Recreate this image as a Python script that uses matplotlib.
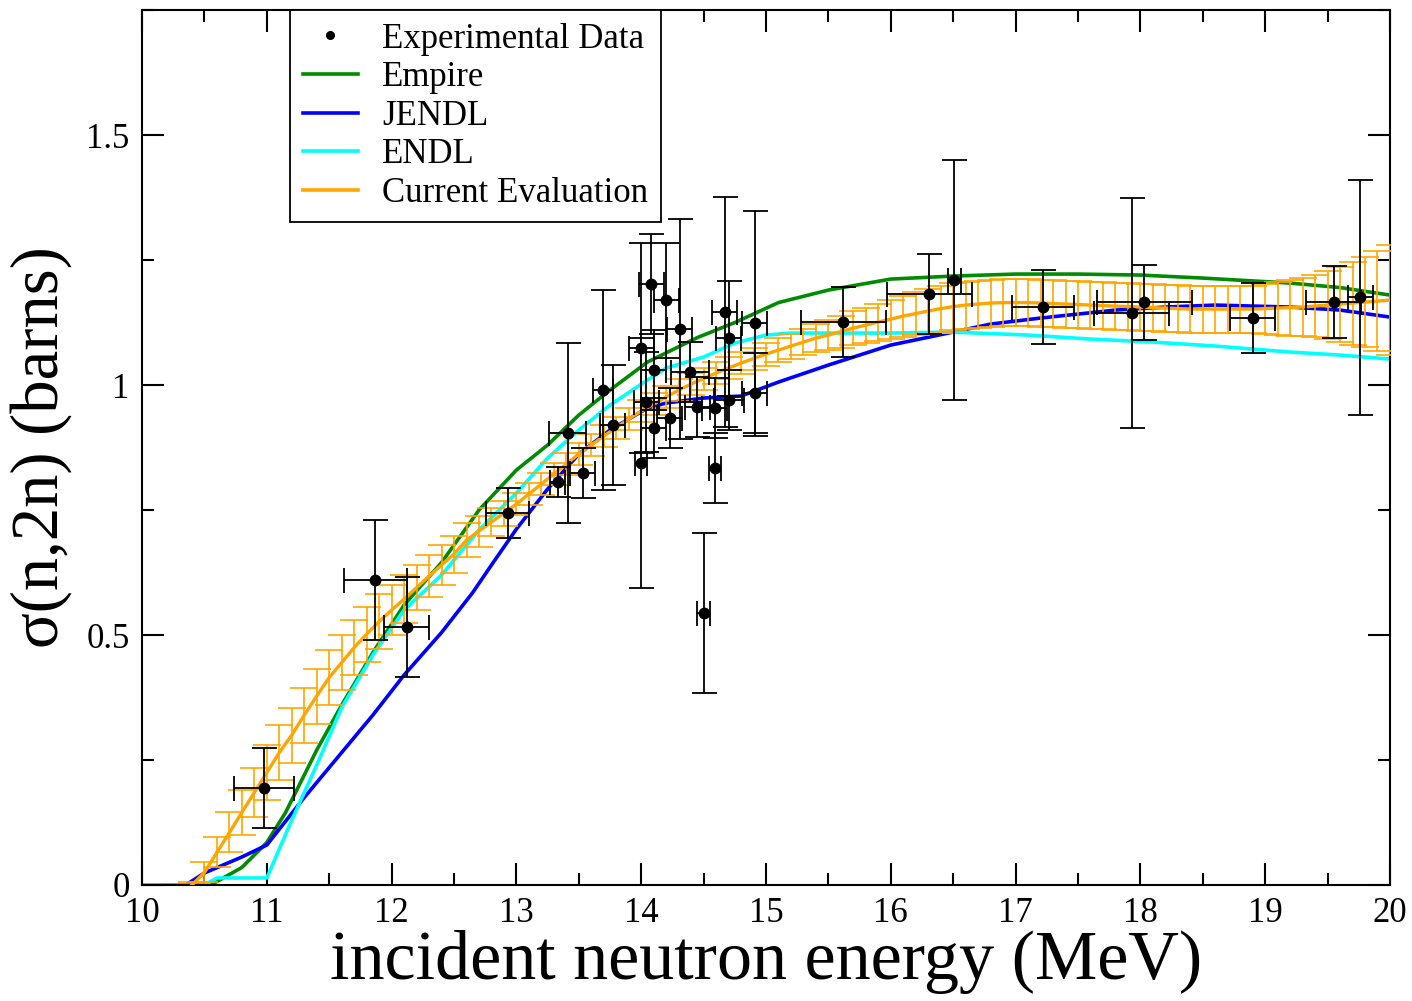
import matplotlib
matplotlib.use("Agg")
import matplotlib.pyplot as plt
from matplotlib.lines import Line2D
from matplotlib.ticker import MultipleLocator, FuncFormatter

plt.rcParams['font.family'] = ['Liberation Serif', 'DejaVu Serif']

# Empire
emp_E = [10.0, 10.55, 10.8, 11.0, 11.15, 11.4, 11.6, 11.85, 12.1, 12.4, 12.7, 13.0, 13.25, 13.5,
         13.75, 14.05, 14.45, 14.75, 15.1, 15.5, 16.0, 16.5, 17.0, 17.5, 18.0, 18.5, 19.2, 19.6, 20.0]
emp_s = [0.0, 0.0, 0.035, 0.085, 0.145, 0.27, 0.36, 0.465, 0.56, 0.645, 0.75, 0.83, 0.88, 0.94,
         0.99, 1.046, 1.095, 1.125, 1.165, 1.19, 1.212, 1.218, 1.222, 1.222, 1.22, 1.214, 1.204, 1.195, 1.18]

# JENDL
jendl_E = [10.0, 10.35, 10.5, 10.8, 11.0, 11.3, 11.6, 11.85, 12.1, 12.4, 12.65, 12.8, 13.0, 13.25,
           13.5, 13.75, 14.05, 14.2, 14.5, 14.8, 15.1, 15.5, 16.0, 16.5, 16.8, 17.2, 17.5, 17.8,
           18.2, 18.6, 19.2, 19.6, 20.0]
jendl_s = [0.0, 0.0, 0.024, 0.056, 0.08, 0.175, 0.265, 0.34, 0.42, 0.505, 0.585, 0.64, 0.712, 0.792,
           0.862, 0.91, 0.954, 0.964, 0.974, 0.978, 1.006, 1.04, 1.08, 1.106, 1.122, 1.134, 1.142, 1.15,
           1.156, 1.16, 1.156, 1.15, 1.136]

# ENDL
endl_E = [10.0, 10.5, 10.6, 11.0, 11.2, 11.4, 11.6, 11.85, 12.1, 12.4, 12.7, 13.0, 13.25, 13.5,
          13.75, 14.05, 14.2, 14.5, 14.75, 15.0, 15.2, 15.5, 16.0, 16.5, 17.1, 17.6, 18.1, 18.6,
          19.2, 19.6, 20.0]
endl_s = [0.0, 0.0, 0.014, 0.014, 0.13, 0.24, 0.355, 0.46, 0.55, 0.62, 0.71, 0.784, 0.854, 0.91,
          0.96, 1.01, 1.034, 1.056, 1.084, 1.10, 1.104, 1.104, 1.104, 1.106, 1.10, 1.092, 1.086, 1.078,
          1.066, 1.06, 1.052]

# Current evaluation (0.1 MeV grid)
cur_E = [10.4, 10.5, 10.6, 10.7, 10.8, 10.9, 11.0, 11.1, 11.2, 11.3, 11.4, 11.5, 11.6, 11.7, 11.8, 11.9,
         12.0, 12.1, 12.2, 12.3, 12.4, 12.5, 12.6, 12.7, 12.8, 12.9, 13.0, 13.1, 13.2, 13.3, 13.4, 13.5,
         13.6, 13.7, 13.8, 13.9, 14.0, 14.1, 14.2, 14.3, 14.4, 14.5, 14.6, 14.7, 14.8, 14.9, 15.0, 15.1,
         15.2, 15.3, 15.4, 15.5, 15.6, 15.7, 15.8, 15.9, 16.0, 16.1, 16.2, 16.3, 16.4, 16.5, 16.6, 16.7,
         16.8, 16.9, 17.0, 17.1, 17.2, 17.3, 17.4, 17.5, 17.6, 17.7, 17.8, 17.9, 18.0, 18.1, 18.2, 18.3,
         18.4, 18.5, 18.6, 18.7, 18.8, 18.9, 19.0, 19.1, 19.2, 19.3, 19.4, 19.5, 19.6, 19.7, 19.8, 19.9,
         20.0]
cur_s = [0.0, 0.025, 0.065, 0.105, 0.145, 0.185, 0.225, 0.265, 0.30, 0.34, 0.378, 0.415, 0.445, 0.475,
         0.502, 0.527, 0.55, 0.572, 0.595, 0.618, 0.64, 0.662, 0.69, 0.708, 0.726, 0.744, 0.762, 0.782,
         0.802, 0.822, 0.842, 0.862, 0.88, 0.898, 0.915, 0.932, 0.948, 0.962, 0.976, 0.99, 1.002, 1.013,
         1.024, 1.034, 1.044, 1.053, 1.062, 1.07, 1.078, 1.086, 1.094, 1.10, 1.107, 1.114, 1.12, 1.126,
         1.132, 1.138, 1.143, 1.148, 1.153, 1.157, 1.16, 1.162, 1.164, 1.165, 1.165, 1.165, 1.164, 1.163,
         1.162, 1.161, 1.16, 1.159, 1.158, 1.157, 1.156, 1.155, 1.154, 1.153, 1.152, 1.152, 1.152, 1.152,
         1.152, 1.152, 1.153, 1.154, 1.155, 1.156, 1.158, 1.16, 1.162, 1.164, 1.166, 1.168, 1.17]
cur_err = [0.005, 0.02, 0.03, 0.04, 0.045, 0.05, 0.055, 0.055, 0.055, 0.055, 0.055, 0.055, 0.055, 0.055,
           0.055, 0.055, 0.05, 0.048, 0.045, 0.042, 0.04, 0.037, 0.034, 0.031, 0.028, 0.025, 0.022, 0.022,
           0.022, 0.022, 0.022, 0.022, 0.022, 0.022, 0.022, 0.022, 0.022, 0.022, 0.022, 0.022, 0.022, 0.022,
           0.022, 0.022, 0.022, 0.022, 0.023, 0.024, 0.025, 0.026, 0.028, 0.03, 0.032, 0.034, 0.035, 0.037,
           0.039, 0.041, 0.043, 0.045, 0.046, 0.047, 0.047, 0.047, 0.047, 0.047, 0.047, 0.047, 0.047, 0.047,
           0.047, 0.047, 0.047, 0.047, 0.047, 0.047, 0.047, 0.047, 0.047, 0.047, 0.047, 0.047, 0.047, 0.047,
           0.047, 0.047, 0.05, 0.053, 0.056, 0.058, 0.062, 0.068, 0.075, 0.083, 0.09, 0.1, 0.11]

# Experimental data: energy, sigma, energy error, sigma error
exp_E = [10.98, 11.87, 12.12, 12.93, 13.33, 13.41, 13.53, 13.77, 13.69, 14.0, 14.0, 14.04, 14.08, 14.1,
         14.1, 14.2, 14.23, 14.31, 14.39, 14.45, 14.5, 14.59, 14.59, 14.67, 14.7, 14.7, 14.91, 14.91,
         15.62, 16.31, 16.51, 17.22, 17.93, 18.03, 18.9, 19.55, 19.76]
exp_s = [0.194, 0.61, 0.516, 0.744, 0.806, 0.905, 0.824, 0.92, 0.99, 1.074, 0.845, 0.966, 1.202, 1.03,
         0.914, 1.17, 0.934, 1.112, 1.026, 0.956, 0.544, 0.954, 0.834, 1.146, 1.094, 0.97, 1.124, 0.984,
         1.127, 1.182, 1.21, 1.156, 1.144, 1.166, 1.134, 1.166, 1.176]
exp_dE = [0.24, 0.25, 0.18, 0.17, 0.06, 0.15, 0.1, 0.1, 0.08, 0.1, 0.05, 0.1, 0.1, 0.1,
          0.1, 0.1, 0.1, 0.1, 0.15, 0.1, 0.05, 0.1, 0.05, 0.1, 0.1, 0.12, 0.1, 0.1,
          0.34, 0.34, 0.05, 0.25, 0.3, 0.38, 0.18, 0.22, 0.1]
exp_ds = [0.08, 0.12, 0.10, 0.05, 0.03, 0.18, 0.05, 0.12, 0.2, 0.21, 0.25, 0.1, 0.10, 0.08,
          0.06, 0.115, 0.06, 0.22, 0.06, 0.06, 0.16, 0.06, 0.07, 0.23, 0.115, 0.06, 0.225, 0.08,
          0.07, 0.08, 0.24, 0.074, 0.23, 0.075, 0.07, 0.072, 0.235]

green = '#008b00'
blue = '#0000ff'
cyan = '#00ffff'
orange = '#ffa500'

fig = plt.figure(figsize=(14.12, 10.01), dpi=100)
ax = fig.add_axes([0.1006, 0.1159, 0.8838, 0.874])

ax.plot(emp_E, emp_s, color=green, lw=2.6, zorder=2)
ax.plot(jendl_E, jendl_s, color=blue, lw=2.6, zorder=2)
ax.plot(endl_E, endl_s, color=cyan, lw=2.6, zorder=2)
ax.errorbar(cur_E, cur_s, yerr=cur_err, color=orange, lw=2.4, elinewidth=1.2,
            capsize=10, capthick=1.2, zorder=3)
ax.errorbar(exp_E, exp_s, xerr=exp_dE, yerr=exp_ds, fmt='o', color='black', ms=7.5,
            elinewidth=1.3, capsize=9, capthick=1.3, zorder=4)

ax.set_xlim(10, 20)
ax.set_ylim(0, 1.75)
ax.xaxis.set_major_locator(MultipleLocator(1))
ax.xaxis.set_minor_locator(MultipleLocator(0.5))
ax.yaxis.set_major_locator(MultipleLocator(0.5))
ax.yaxis.set_minor_locator(MultipleLocator(0.25))
ax.yaxis.set_major_formatter(FuncFormatter(lambda v, p: f"{v:g}"))
ax.tick_params(which='both', direction='in', top=True, right=True, width=1.5, labelsize=25)
ax.tick_params(which='major', length=16, pad=9)
ax.tick_params(which='minor', length=8.5)
for sp in ax.spines.values():
    sp.set_linewidth(1.5)

ax.set_xlabel("incident neutron energy (MeV)", fontsize=50.5, labelpad=0)
ax.set_ylabel("σ(n,2n) (barns)", fontsize=48, labelpad=10)

handles = [
    Line2D([], [], marker='o', color='black', ms=5.5, ls='none'),
    Line2D([], [], color=green, lw=2.6),
    Line2D([], [], color=blue, lw=2.6),
    Line2D([], [], color=cyan, lw=2.6),
    Line2D([], [], color=orange, lw=2.6),
]
labels = ["Experimental Data", "Empire", "JENDL", "ENDL", "Current Evaluation"]
leg = ax.legend(handles, labels, loc='upper left', bbox_to_anchor=(0.1186, 1.0), borderaxespad=0,
                fontsize=25, frameon=True, fancybox=False, edgecolor='black', framealpha=1,
                handlelength=1.6, handletextpad=0.7, labelspacing=0.16, borderpad=0.36)
leg.get_frame().set_linewidth(1.3)

fig.savefig("out.png", dpi=100)
